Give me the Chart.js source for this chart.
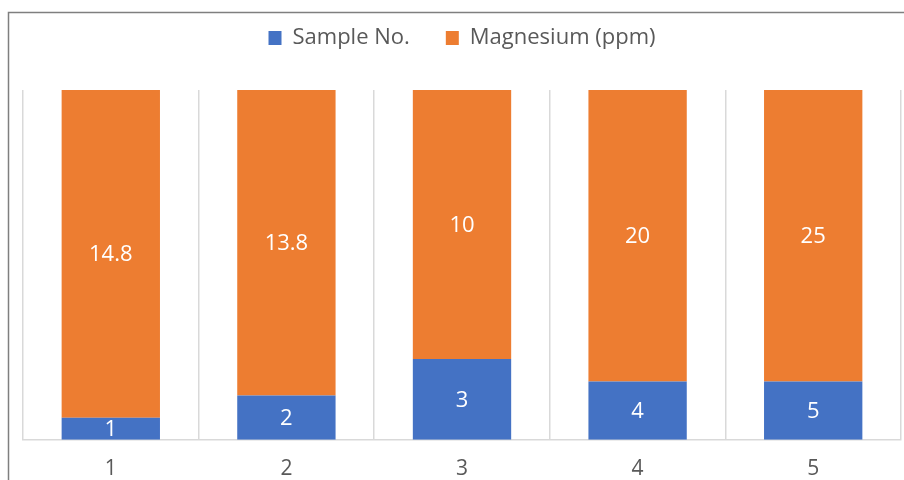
<!DOCTYPE html>
<html lang="en">
<head>
    <meta charset="UTF-8">
    <title>Sample No. / Magnesium (ppm)</title>
    <script src="https://cdn.jsdelivr.net/npm/chart.js"></script>
    <style>
        body { margin: 0; background: #fff; }
        .chart-container { position: relative; width: 904px; height: 480px; }
    </style>
</head>
<body>
    <div class="chart-container">
        <canvas id="mgChart" width="904" height="480"></canvas>
    </div>

    <script>
        const categories = ['1', '2', '3', '4', '5'];
        const sampleNo = [1, 2, 3, 4, 5];
        const magnesium = [14.8, 13.8, 10, 20, 25];

        // 100% stacked: turn values into shares of each column
        const totals = sampleNo.map((v, i) => v + magnesium[i]);
        const pct = arr => arr.map((v, i) => v / totals[i] * 100);

        const frame = {
            id: 'frame',
            beforeInit(chart) {
                // give the legend a fixed height so the plot starts lower
                const fit = chart.legend.fit;
                chart.legend.fit = function () {
                    fit.call(this);
                    this.height = 99;
                };
            },
            beforeDraw(chart) {
                const ctx = chart.ctx;
                ctx.save();
                ctx.strokeStyle = '#7f7f7f';
                ctx.lineWidth = 1.5;
                ctx.strokeRect(8.5, 12.5, chart.width + 20, chart.height + 20);
                ctx.restore();
            }
        };

        const segmentLabels = {
            id: 'segmentLabels',
            afterDatasetsDraw(chart) {
                const ctx = chart.ctx;
                ctx.save();
                ctx.fillStyle = '#ffffff';
                ctx.font = '22px "Open Sans"';
                ctx.textAlign = 'center';
                ctx.textBaseline = 'middle';
                chart.data.datasets.forEach((ds, di) => {
                    chart.getDatasetMeta(di).data.forEach((bar, i) => {
                        ctx.fillText(String(ds.raw[i]), bar.x, (bar.y + bar.base) / 2 + 1);
                    });
                });
                ctx.restore();
            }
        };

        new Chart(document.getElementById('mgChart'), {
            type: 'bar',
            data: {
                labels: categories,
                datasets: [{
                    label: 'Sample No.',
                    data: pct(sampleNo),
                    raw: sampleNo,
                    backgroundColor: '#4472C4'
                }, {
                    label: 'Magnesium (ppm)',
                    data: pct(magnesium),
                    raw: magnesium,
                    backgroundColor: '#ED7D31'
                }]
            },
            options: {
                responsive: false,
                animation: false,
                datasets: { bar: { categoryPercentage: 1, barPercentage: 0.56 } },
                layout: { padding: { top: -9, left: 23, right: 3, bottom: -19 } },
                plugins: {
                    tooltip: { enabled: false },
                    legend: {
                        position: 'top',
                        labels: {
                            boxWidth: 13,
                            boxHeight: 14,
                            padding: 36,
                            color: '#595959',
                            font: { family: '"Open Sans"', size: 22 }
                        }
                    }
                },
                scales: {
                    x: {
                        stacked: true,
                        grid: { offset: true, color: '#d9d9d9', lineWidth: 1.5, drawTicks: false },
                        border: { color: '#d9d9d9', width: 1.5 },
                        ticks: { color: '#595959', padding: 17, font: { family: '"Open Sans"', size: 21 } }
                    },
                    y: {
                        stacked: true,
                        display: false,
                        min: 0,
                        max: 100
                    }
                }
            },
            plugins: [frame, segmentLabels]
        });
    </script>
</body>
</html>
